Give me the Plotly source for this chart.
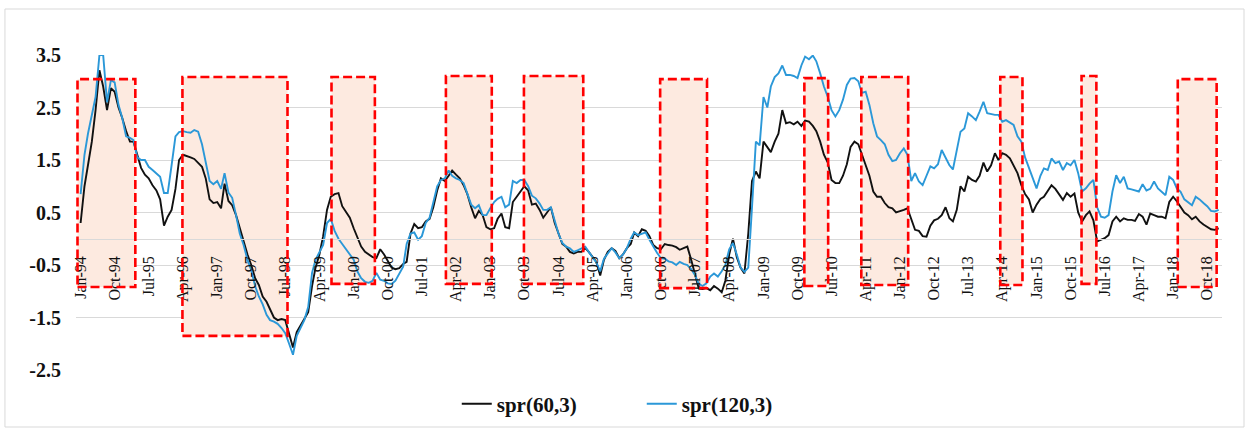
import pandas as pd
import plotly.graph_objects as go

# Monthly spreads, Jan-1994 onwards (one row per year)
spr60 = [
    0.30, 1.00, 1.40, 1.85, 2.45, 3.21, 2.90, 2.45, 2.87, 2.80, 2.50, 2.30,
    2.05, 1.85, 1.85, 1.60, 1.35, 1.22, 1.15, 1.02, 0.92, 0.75, 0.25, 0.42,
    0.55, 0.95, 1.50, 1.60, 1.58, 1.55, 1.52, 1.45, 1.37, 1.15, 0.75, 0.68,
    0.70, 0.58, 1.05, 0.72, 0.64, 0.45, 0.20, -0.05, -0.30, -0.50, -0.75, -0.88,
    -1.10, -1.20, -1.33, -1.50, -1.55, -1.53, -1.55, -1.80, -2.07, -1.78, -1.65, -1.55,
    -1.40, -0.90, -0.55, -0.30, 0.05, 0.55, 0.80, 0.85, 0.87, 0.62, 0.52, 0.40,
    0.20, 0.00, -0.15, -0.25, -0.30, -0.35, -0.37, -0.20, -0.30, -0.42, -0.55, -0.58,
    -0.56, -0.48, -0.44, 0.10, 0.28, 0.20, 0.22, 0.33, 0.38, 0.60, 0.92, 1.15,
    1.10, 1.20, 1.30, 1.22, 1.15, 1.02, 0.85, 0.60, 0.39, 0.53, 0.45, 0.22,
    0.18, 0.20, 0.38, 0.48, 0.22, 0.20, 0.70, 0.80, 0.90, 1.00, 0.92, 0.65,
    0.67, 0.55, 0.40, 0.50, 0.60, 0.30, 0.10, -0.10, -0.15, -0.25, -0.28, -0.25,
    -0.25, -0.18, -0.25, -0.35, -0.44, -0.70, -0.40, -0.25, -0.18, -0.23, -0.37, -0.30,
    -0.18, -0.10, 0.12, 0.05, 0.18, 0.15, 0.05, -0.12, -0.18, -0.20, -0.10, -0.12,
    -0.13, -0.16, -0.21, -0.18, -0.15, -0.40, -0.70, -0.95, -0.96, -0.94, -0.98, -0.90,
    -0.95, -1.02, -0.80, -0.30, 0.00, -0.35, -0.55, -0.66, 0.10, 1.10, 1.28, 1.15,
    1.85, 1.75, 1.65, 1.85, 2.00, 2.45, 2.20, 2.22, 2.18, 2.23, 2.15, 2.25,
    2.23, 2.15, 2.05, 1.85, 1.60, 1.45, 1.12, 1.06, 1.06, 1.20, 1.42, 1.75,
    1.85, 1.80, 1.60, 1.40, 1.20, 0.90, 0.80, 0.80, 0.68, 0.60, 0.58, 0.50,
    0.52, 0.55, 0.58, 0.39, 0.17, 0.15, 0.05, 0.04, 0.25, 0.35, 0.38, 0.45,
    0.60, 0.39, 0.33, 0.55, 1.00, 0.90, 1.18, 1.12, 1.09, 1.20, 1.45, 1.28,
    1.40, 1.63, 1.50, 1.63, 1.60, 1.53, 1.40, 1.25, 1.02, 0.85, 0.75, 0.50,
    0.65, 0.76, 0.80, 0.92, 1.02, 0.95, 0.85, 0.74, 0.87, 0.80, 0.86, 0.50,
    0.33, 0.45, 0.52, 0.35, -0.05, -0.02, 0.01, 0.07, 0.33, 0.42, 0.33, 0.39,
    0.36, 0.36, 0.34, 0.47, 0.42, 0.27, 0.48, 0.45, 0.42, 0.42, 0.39, 0.70,
    0.80, 0.71, 0.60, 0.50, 0.45, 0.37, 0.42, 0.33, 0.27, 0.22, 0.18, 0.17,
    0.20,
]

spr120 = [
    0.85, 1.60, 2.00, 2.35, 2.70, 3.50, 3.50, 2.60, 3.02, 2.98, 2.55, 2.30,
    1.95, 1.92, 1.88, 1.55, 1.50, 1.50, 1.37, 1.31, 1.25, 1.18, 0.87, 0.87,
    1.40, 1.95, 2.03, 2.05, 2.03, 2.02, 2.07, 2.04, 1.80, 1.45, 1.10, 1.04,
    1.10, 0.95, 1.25, 0.88, 0.78, 0.45, 0.10, -0.12, -0.40, -0.60, -0.90, -1.10,
    -1.25, -1.45, -1.55, -1.58, -1.62, -1.70, -1.80, -2.00, -2.21, -1.85, -1.70, -1.55,
    -1.30, -0.65, -0.40, -0.25, -0.12, 0.30, 0.38, 0.15, 0.00, -0.10, -0.20, -0.30,
    -0.40, -0.63, -0.75, -0.82, -0.84, -0.80, -0.65, -0.78, -0.80, -0.85, -0.86, -0.80,
    -0.65, -0.53, -0.10, 0.10, 0.12, -0.02, 0.05, 0.30, 0.40, 0.68, 1.00, 1.12,
    1.15, 1.30, 1.20, 1.15, 1.12, 1.06, 0.85, 0.65, 0.58, 0.64, 0.45, 0.45,
    0.58, 0.70, 0.76, 0.80, 0.60, 0.65, 1.10, 1.06, 1.12, 1.12, 1.00, 0.82,
    0.77, 0.67, 0.55, 0.55, 0.60, 0.35, 0.10, -0.08, -0.15, -0.18, -0.25, -0.22,
    -0.18, -0.15, -0.25, -0.35, -0.45, -0.62, -0.38, -0.28, -0.18, -0.26, -0.37, -0.30,
    -0.18, 0.00, 0.12, 0.07, 0.10, 0.12, -0.02, -0.15, -0.27, -0.37, -0.38, -0.43,
    -0.45, -0.50, -0.44, -0.48, -0.50, -0.58, -0.69, -0.86, -0.90, -0.85, -0.72, -0.66,
    -0.72, -0.62, -0.50, -0.20, -0.08, -0.30, -0.55, -0.63, -0.55, 0.60, 1.85, 1.78,
    2.70, 2.50, 2.90, 3.08, 3.15, 3.30, 3.12, 3.12, 3.10, 3.06, 3.30, 3.47,
    3.42, 3.49, 3.38, 3.15, 2.90, 2.70, 2.45, 2.33, 2.45, 2.65, 2.93, 3.05,
    3.06, 3.00, 2.78, 2.80, 2.55, 2.20, 1.95, 1.88, 1.80, 1.60, 1.48, 1.50,
    1.63, 1.72, 1.60, 1.10, 1.25, 1.09, 1.02, 1.20, 1.38, 1.34, 1.42, 1.69,
    1.53, 1.40, 1.32, 1.66, 2.04, 2.10, 2.39, 2.33, 2.26, 2.42, 2.61, 2.39,
    2.37, 2.36, 2.36, 2.23, 2.26, 2.22, 2.17, 1.95, 1.85, 1.55, 1.35, 1.12,
    0.96, 1.20, 1.34, 1.31, 1.53, 1.44, 1.47, 1.31, 1.44, 1.40, 1.50, 1.25,
    0.90, 0.96, 1.05, 1.12, 0.60, 0.42, 0.40, 0.45, 0.90, 1.21, 1.06, 1.18,
    0.96, 0.94, 0.92, 0.90, 1.04, 0.92, 0.95, 1.09, 0.96, 0.90, 0.83, 1.18,
    1.12, 0.95, 0.90, 0.75, 0.70, 0.64, 0.80, 0.75, 0.68, 0.62, 0.53, 0.52,
    0.55,
]

# Highlighted periods (boxes)
hl_start = ["1993-12-07", "1996-03-28", "1999-07-07", "2002-01-10", "2003-09-28", "2006-09-25",
            "2009-11-25", "2011-02-25", "2014-03-16", "2015-12-28", "2018-02-07"]
hl_end = ["1995-03-16", "1998-07-19", "2000-06-19", "2003-01-13", "2005-01-16", "2007-10-06",
          "2010-06-04", "2012-03-07", "2014-09-10", "2016-04-25", "2018-12-16"]
hl_top = [3.04, 3.08, 3.08, 3.10, 3.10, 3.04, 3.06, 3.08, 3.08, 3.10, 3.04]
hl_bottom = [-0.92, -1.85, -0.86, -0.86, -0.86, -0.94, -0.90, -0.88, -0.88, -0.86, -0.92]

y_ticks = [-2.5, -1.5, -0.5, 0.5, 1.5, 2.5, 3.5]
y_tick_text = ["-2.5", "-1.5", "-0.5", "0.5", "1.5", "2.5", "3.5"]

dates = pd.date_range("1994-01-01", periods=len(spr60), freq="MS")

SERIF = "Liberation Serif, Times New Roman, serif"

fig = go.Figure()
fig.add_trace(go.Scatter(x=dates, y=spr60, mode="lines", name="spr(60,3)",
                         line=dict(color="#111111", width=1.9)))
fig.add_trace(go.Scatter(x=dates, y=spr120, mode="lines", name="spr(120,3)",
                         line=dict(color="#2B98D8", width=1.9)))

for x0, x1, y1, y0 in zip(hl_start, hl_end, hl_top, hl_bottom):
    # pale fill under the lines
    fig.add_shape(type="rect", xref="x", yref="y", x0=x0, x1=x1, y0=y0, y1=y1,
                  fillcolor="#FDEAE0", line=dict(width=0), layer="between")
    # dashed red outline on top
    fig.add_shape(type="rect", xref="x", yref="y", x0=x0, x1=x1, y0=y0, y1=y1,
                  fillcolor="rgba(0,0,0,0)", line=dict(color="#FF0000", width=2.6, dash="9px,4px"),
                  layer="above")

# light frame around the whole chart
fig.add_shape(type="rect", xref="paper", yref="paper", x0=-0.0620, x1=1.0192, y0=-0.181, y1=1.146,
              line=dict(color="#D9D9D9", width=1), fillcolor="rgba(0,0,0,0)", layer="below")

y_min, y_max = -2.5, 3.5
fig.update_layout(
    width=1248, height=428,
    margin=dict(l=76, r=26, t=55, b=58, autoexpand=False),
    paper_bgcolor="white", plot_bgcolor="white",
    showlegend=True,
    legend=dict(orientation="h", xref="container", yref="container",
                x=0.366, xanchor="left", y=0.056, yanchor="middle",
                font=dict(family=SERIF, size=21, color="#111111", weight="bold"),
                bgcolor="rgba(0,0,0,0)", entrywidth=140, entrywidthmode="pixels"),
    xaxis=dict(
        type="date", range=["1993-11-25", "2019-01-28"],
        tick0="1994-01-01", dtick="M9", tickformat="%b-%y", tickangle=-90,
        anchor="free", position=(0 - y_min) / (y_max - y_min),
        showgrid=False, showline=True, linecolor="#D9D9D9", linewidth=1,
        ticks="", ticklabelstandoff=10,
        tickfont=dict(family=SERIF, size=16, color="#111111"),
        zeroline=False,
    ),
    yaxis=dict(
        range=[y_min, y_max], tickvals=y_ticks, ticktext=y_tick_text,
        showgrid=True, gridcolor="#D9D9D9", gridwidth=1,
        zeroline=False, showline=False, ticks="", ticklabelstandoff=14,
        tickfont=dict(family=SERIF, size=20, color="#111111", weight="bold"),
    ),
)

fig.write_html("out.html")
